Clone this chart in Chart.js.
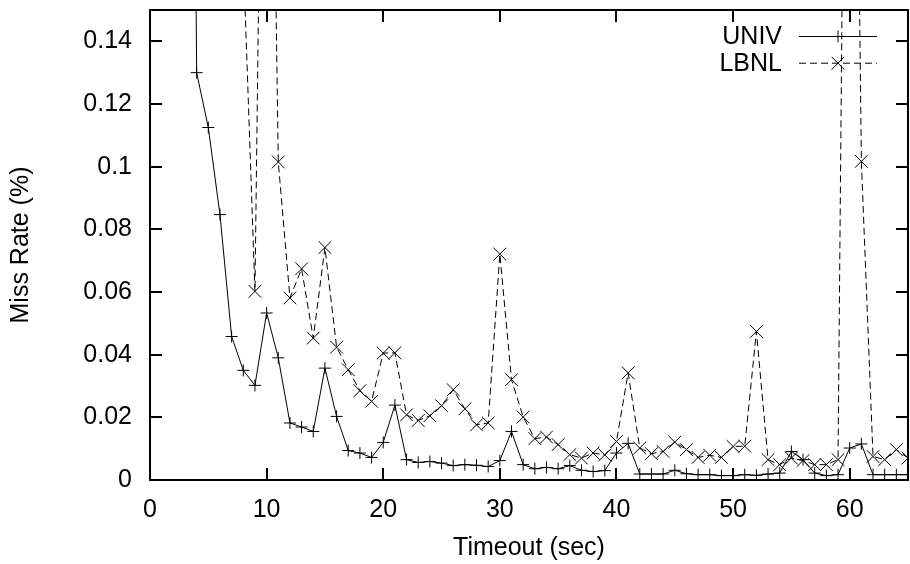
<!DOCTYPE html>
<html>
<head>
<meta charset="utf-8">
<script src="https://cdn.jsdelivr.net/npm/chart.js@4"></script>
<style>
  html, body { margin: 0; padding: 0; background: #fff; overflow: hidden; }
  canvas { display: block; }
</style>
</head>
<body>
<canvas id="missChart" width="910" height="564"></canvas>
<script>
// timeout values (sec)
var timeouts = [1, 2, 3, 4, 5, 6, 7, 8, 9, 10, 11, 12, 13, 14, 15, 16, 17, 18, 19, 20,
    21, 22, 23, 24, 25, 26, 27, 28, 29, 30, 31, 32, 33, 34, 35, 36, 37, 38, 39, 40,
    41, 42, 43, 44, 45, 46, 47, 48, 49, 50, 51, 52, 53, 54, 55, 56, 57, 58, 59, 60,
    61, 62, 63, 64, 65];

// miss rate (%), values above 0.15 are off the top
var univ = [2.0, 1.2, 0.6, 0.130, 0.1125, 0.0847, 0.0458, 0.035, 0.0302, 0.0533,
    0.039, 0.0182, 0.0169, 0.0155, 0.0357, 0.0203, 0.0094, 0.0086, 0.0072, 0.012,
    0.0239, 0.0065, 0.0056, 0.0059, 0.0054, 0.0046, 0.0049, 0.0047, 0.0043, 0.0062,
    0.0155, 0.0049, 0.0036, 0.004, 0.0036, 0.0046, 0.0031, 0.0027, 0.003, 0.0086,
    0.0117, 0.0019, 0.0019, 0.0019, 0.0031, 0.002, 0.0017, 0.0017, 0.0014, 0.0014,
    0.0017, 0.0015, 0.0019, 0.0022, 0.0091, 0.0065, 0.0022, 0.0014, 0.0017, 0.0102,
    0.0115, 0.0017, 0.0017, 0.0017, 0.0017];

var lbnl = [2.0, 1.5, 1.0, 0.8, 0.6, 0.5, 0.4, 0.167, 0.0602, 0.36,
    0.1015, 0.0581, 0.0674, 0.0453, 0.0742, 0.0424, 0.0352, 0.0285, 0.0251, 0.0405,
    0.0406, 0.0208, 0.019, 0.0205, 0.0237, 0.0288, 0.0227, 0.0176, 0.0182, 0.0721,
    0.032, 0.0201, 0.0132, 0.0137, 0.0113, 0.0081, 0.007, 0.0086, 0.008, 0.0123,
    0.0342, 0.0102, 0.0084, 0.0091, 0.0121, 0.0097, 0.0072, 0.0079, 0.0072, 0.0107,
    0.0108, 0.0474, 0.0065, 0.0049, 0.007, 0.0062, 0.0049, 0.0049, 0.0065, 0.43,
    0.1017, 0.0075, 0.0065, 0.0097, 0.007];

var xTicks = [0, 10, 20, 30, 40, 50, 60];
var yTicks = [0, 0.02, 0.04, 0.06, 0.08, 0.1, 0.12, 0.14];

var FONT = 'Liberation Sans, Arial, Helvetica, sans-serif';

function pts(ys) {
    return timeouts.map(function(t, i) { return { x: t, y: ys[i] }; });
}

// no automatic edge padding, keep the plot box where the original has it
function noPad(scale) {
    scale.paddingTop = 0;
    scale.paddingBottom = 0;
    scale.paddingLeft = 0;
    scale.paddingRight = 0;
}

// gnuplot style box with inward ticks on all sides + key in the top right
var framePlugin = {
    id: 'frame',
    afterDraw: function(chart) {
        var c = chart.ctx, a = chart.chartArea;
        var xs = chart.scales.x, ys = chart.scales.y;
        c.save();
        c.setLineDash([]);
        c.fillStyle = '#000';
        xTicks.forEach(function(v) {
            var px = Math.round(xs.getPixelForValue(v));
            c.fillRect(px - 1, a.bottom - 12, 2, 12);
            c.fillRect(px - 1, a.top, 2, 12);
        });
        yTicks.forEach(function(v) {
            var py = Math.round(ys.getPixelForValue(v));
            c.fillRect(a.left, py - 1, 12, 2);
            c.fillRect(a.right - 12, py - 1, 12, 2);
        });
        c.strokeStyle = '#000';
        c.lineWidth = 2;
        c.strokeRect(a.left, a.top, a.right - a.left, a.bottom - a.top);

        // key
        c.font = '25px ' + FONT;
        c.textAlign = 'right';
        c.textBaseline = 'middle';
        chart.data.datasets.forEach(function(ds, i) {
            var ky = 36 + i * 26.7;
            c.fillText(ds.label, 782, ky + 1);
            c.save();
            c.lineWidth = 1;
            c.setLineDash(ds.borderDash || []);
            c.beginPath();
            c.moveTo(799, ky + 0.5); c.lineTo(877, ky + 0.5);
            c.stroke();
            c.setLineDash([]);
            Chart.helpers.drawPoint(c, {
                pointStyle: ds.pointStyle, radius: ds.pointRadius, rotation: 0, borderWidth: 1
            }, 838, ky + 0.5);
            c.restore();
        });
        c.restore();
    }
};

var ctx = document.getElementById('missChart').getContext('2d');
var missChart = new Chart(ctx, {
    type: 'line',
    data: {
        datasets: [{
            label: 'UNIV',
            data: pts(univ),
            borderColor: '#000',
            borderWidth: 1,
            pointStyle: 'cross',
            pointRadius: 6,
            pointBorderWidth: 1,
            pointBorderColor: '#000',
            pointBackgroundColor: 'rgba(0,0,0,0)',
            tension: 0,
            clip: 0
        }, {
            label: 'LBNL',
            data: pts(lbnl),
            borderColor: '#000',
            borderWidth: 1,
            borderDash: [7, 4],
            pointStyle: 'crossRot',
            pointRadius: 9,
            pointBorderWidth: 1,
            pointBorderColor: '#000',
            pointBackgroundColor: 'rgba(0,0,0,0)',
            tension: 0,
            clip: 0
        }]
    },
    options: {
        responsive: false,
        animation: false,
        devicePixelRatio: 1,
        layout: { autoPadding: false, padding: { top: 10, right: 2, left: 0, bottom: 0 } },
        plugins: {
            legend: { display: false },
            tooltip: { enabled: false }
        },
        scales: {
            x: {
                type: 'linear',
                min: 0,
                max: 65,
                afterBuildTicks: function(scale) {
                    scale.ticks = xTicks.map(function(v) { return { value: v }; });
                },
                afterFit: function(scale) { scale.height = 84; noPad(scale); },
                grid: { display: false, drawTicks: false },
                border: { display: false },
                ticks: {
                    color: '#000',
                    padding: 15,
                    maxRotation: 0,
                    font: { family: FONT, size: 25 }
                },
                title: {
                    display: true,
                    text: 'Timeout (sec)',
                    color: '#000',
                    font: { family: FONT, size: 25 },
                    padding: { top: 0, bottom: 1 }
                }
            },
            y: {
                min: 0,
                max: 0.15,
                afterBuildTicks: function(scale) {
                    scale.ticks = yTicks.map(function(v) { return { value: v }; });
                },
                afterFit: function(scale) { scale.width = 150; noPad(scale); },
                grid: { display: false, drawTicks: false },
                border: { display: false },
                ticks: {
                    color: '#000',
                    padding: 18,
                    font: { family: FONT, size: 25 },
                    callback: function(v) { return String(parseFloat(Number(v).toFixed(2))); }
                },
                title: {
                    display: true,
                    text: 'Miss Rate (%)',
                    color: '#000',
                    font: { family: FONT, size: 25 },
                    padding: { top: 6, bottom: 0 }
                }
            }
        }
    },
    plugins: [framePlugin]
});
</script>
</body>
</html>
